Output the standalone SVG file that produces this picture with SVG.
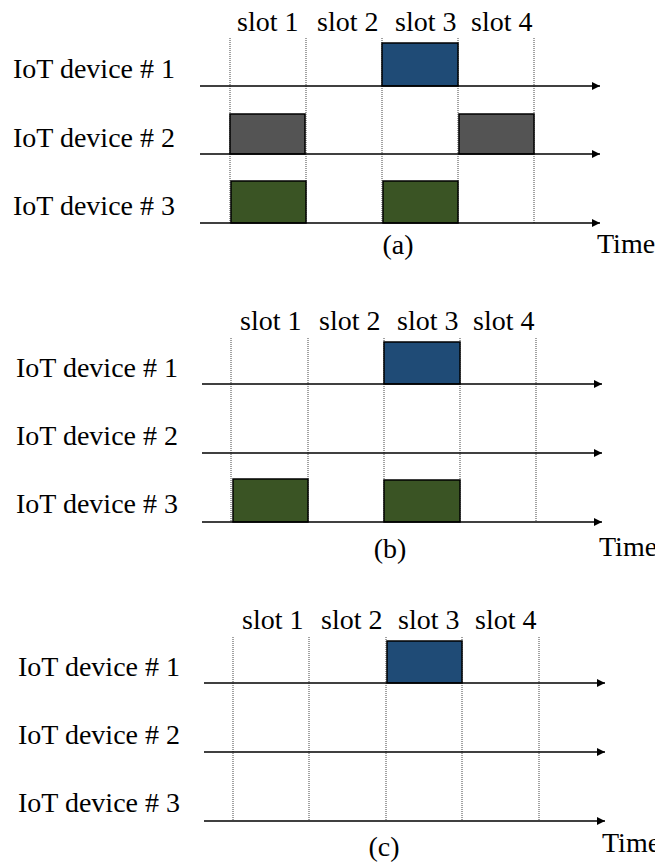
<svg xmlns="http://www.w3.org/2000/svg" width="655" height="867" viewBox="0 0 655 867">
  <defs>
    <marker id="arrow" viewBox="0 0 10 10" refX="10" refY="5" markerWidth="8" markerHeight="8" markerUnits="userSpaceOnUse" orient="auto">
      <path d="M0,0 L10,5 L0,10 Z" fill="#000"/>
    </marker>
    <style>
      text { font-family: "Liberation Serif", "Times New Roman", serif; font-size: 28px; fill: #000; }
      .grid line { stroke: #444; stroke-width: 1; stroke-dasharray: 1 1; }
      .axis { stroke: #000; stroke-width: 1.3; fill: none; marker-end: url(#arrow); }
      .slot { stroke: #000; stroke-width: 1.5; }
      .blue { fill: #1f4b76; }
      .gray { fill: #545454; }
      .green { fill: #3a5424; }
      .mid { text-anchor: middle; }
    </style>
  </defs>
  <rect width="655" height="867" fill="#fff"/>

  <!-- (a) -->
  <g id="panel-a">
    <g class="grid">
      <line x1="230" y1="38" x2="230" y2="223"/>
      <line x1="306" y1="38" x2="306" y2="223"/>
      <line x1="382" y1="38" x2="382" y2="223"/>
      <line x1="458" y1="38" x2="458" y2="223"/>
      <line x1="534" y1="38" x2="534" y2="223"/>
    </g>
    <g id="a-slot-labels">
      <text x="237" y="31">slot 1</text>
      <text x="317" y="31">slot 2</text>
      <text x="395" y="31">slot 3</text>
      <text x="471" y="31">slot 4</text>
    </g>
    <g id="a-dev1"><text x="13" y="78">IoT device # 1</text><rect class="slot blue" x="382" y="43" width="76" height="43"/></g>
    <g id="a-dev2"><text x="13" y="147">IoT device # 2</text><rect class="slot gray" x="230" y="114" width="75" height="40"/><rect class="slot gray" x="459" y="114" width="75" height="40"/></g>
    <g id="a-dev3"><text x="13" y="215">IoT device # 3</text><rect class="slot green" x="231" y="181" width="75" height="42"/><rect class="slot green" x="383" y="181" width="75" height="42"/></g>
    <g id="a-connectors">
      <line class="axis" x1="200" y1="86" x2="600" y2="86"/>
      <line class="axis" x1="200" y1="154" x2="600" y2="154"/>
      <line class="axis" x1="200" y1="223" x2="600" y2="223"/>
    </g>
    <text class="mid" x="398" y="254">(a)</text>
    <text x="597" y="253">Time</text>
  </g>

  <!-- (b) -->
  <g id="panel-b">
    <g class="grid">
      <line x1="231" y1="338" x2="231" y2="522"/>
      <line x1="308" y1="338" x2="308" y2="522"/>
      <line x1="384" y1="338" x2="384" y2="522"/>
      <line x1="460" y1="338" x2="460" y2="522"/>
      <line x1="536" y1="338" x2="536" y2="522"/>
    </g>
    <g id="b-slot-labels">
      <text x="240" y="330">slot 1</text>
      <text x="319" y="330">slot 2</text>
      <text x="397" y="330">slot 3</text>
      <text x="473" y="330">slot 4</text>
    </g>
    <g id="b-dev1"><text x="16" y="377">IoT device # 1</text><rect class="slot blue" x="384" y="342" width="76" height="42"/></g>
    <g id="b-dev2"><text x="16" y="445">IoT device # 2</text></g>
    <g id="b-dev3"><text x="16" y="513">IoT device # 3</text><rect class="slot green" x="233" y="479" width="75" height="43"/><rect class="slot green" x="384" y="480" width="76" height="42"/></g>
    <g id="b-connectors">
      <line class="axis" x1="202" y1="384" x2="602" y2="384"/>
      <line class="axis" x1="202" y1="453" x2="602" y2="453"/>
      <line class="axis" x1="202" y1="522" x2="602" y2="522"/>
    </g>
    <text class="mid" x="390" y="558">(b)</text>
    <text x="599" y="556">Time</text>
  </g>

  <!-- (c) -->
  <g id="panel-c">
    <g class="grid">
      <line x1="233" y1="637" x2="233" y2="821"/>
      <line x1="309" y1="637" x2="309" y2="821"/>
      <line x1="386" y1="637" x2="386" y2="821"/>
      <line x1="462" y1="637" x2="462" y2="821"/>
      <line x1="539" y1="637" x2="539" y2="821"/>
    </g>
    <g id="c-slot-labels">
      <text x="242" y="629">slot 1</text>
      <text x="321" y="629">slot 2</text>
      <text x="398" y="629">slot 3</text>
      <text x="475" y="629">slot 4</text>
    </g>
    <g id="c-dev1"><text x="18" y="676">IoT device # 1</text><rect class="slot blue" x="387" y="641" width="75" height="42"/></g>
    <g id="c-dev2"><text x="18" y="744">IoT device # 2</text></g>
    <g id="c-dev3"><text x="18" y="812">IoT device # 3</text></g>
    <g id="c-connectors">
      <line class="axis" x1="204" y1="683" x2="605" y2="683"/>
      <line class="axis" x1="204" y1="752" x2="605" y2="752"/>
      <line class="axis" x1="204" y1="821" x2="605" y2="821"/>
    </g>
    <text class="mid" x="384" y="856">(c)</text>
    <text x="602" y="852">Time</text>
  </g>
</svg>
